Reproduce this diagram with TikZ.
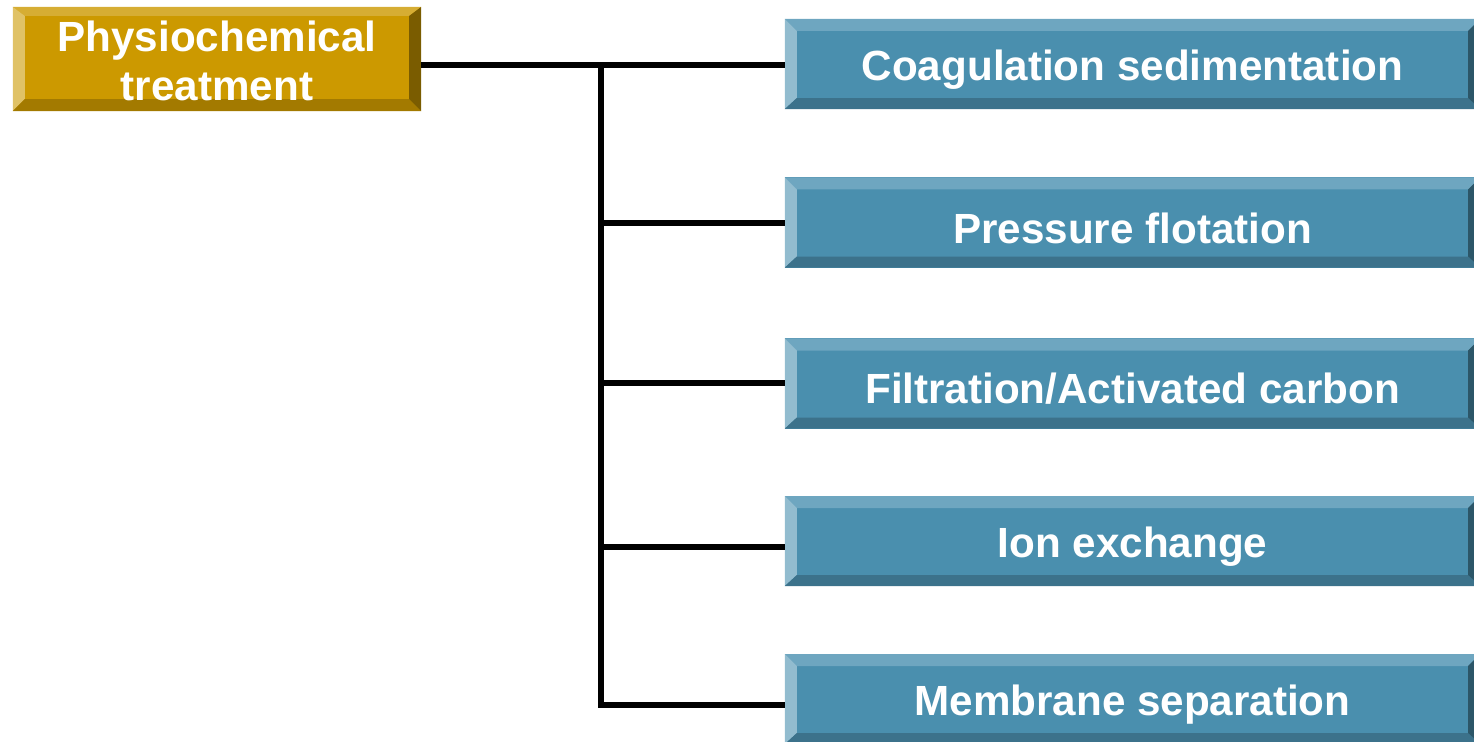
\documentclass[tikz,border=0pt]{standalone}
\usepackage{fontspec}
\setmainfont{Liberation Sans}
\usetikzlibrary{calc}

\definecolor{goldM}{HTML}{CC9900}
\definecolor{goldT}{HTML}{D6AD33}
\definecolor{goldL}{HTML}{E0C266}
\definecolor{goldB}{HTML}{A37A00}
\definecolor{goldR}{HTML}{7A5C00}
\definecolor{blueM}{HTML}{4A8FAE}
\definecolor{blueT}{HTML}{6EA6C0}
\definecolor{blueL}{HTML}{92BCCF}
\definecolor{blueB}{HTML}{3C728B}
\definecolor{blueR}{HTML}{2C5668}

% Bevelled frame around a node: name, top, side and bottom widths, colour prefix
\newcommand\bevelframe[5]{%
  \fill[#5T] (#1.north west) -- (#1.north east) -- ($(#1.north east)+(-#3,-#2)$) -- ($(#1.north west)+(#3,-#2)$) -- cycle;
  \fill[#5L] (#1.north west) -- (#1.south west) -- ($(#1.south west)+(#3,#4)$) -- ($(#1.north west)+(#3,-#2)$) -- cycle;
  \fill[#5B] (#1.south west) -- (#1.south east) -- ($(#1.south east)+(-#3,#4)$) -- ($(#1.south west)+(#3,#4)$) -- cycle;
  \fill[#5R] (#1.north east) -- (#1.south east) -- ($(#1.south east)+(-#3,#4)$) -- ($(#1.north east)+(-#3,-#2)$) -- cycle;
}

\tikzset{
  boxtext/.style={text=white, font=\bfseries\fontsize{12}{13.9}\selectfont,
    inner sep=0pt, outer sep=0pt, align=center},
  goldbox/.style={boxtext, fill=goldM, minimum width=4.08cm, minimum height=1.04cm},
  bluebox/.style={boxtext, fill=blueM, minimum width=6.95cm, minimum height=0.90cm},
  conn/.style={line width=1.6pt, black, line join=miter}
}

\begin{document}
\begin{tikzpicture}[x=0.01cm, y=-0.01cm]
\useasboundingbox (0,0) rectangle (1474,741);
\clip (0,0) rectangle (1474,741);

% main category
\node[goldbox] (g) at (217,59) {};
\bevelframe{g}{0.09cm}{0.12cm}{0.12cm}{gold}
\node[boxtext] at ($(g.center)+(0,-0.02cm)$) {Physiochemical\\treatment};

% treatment methods
\foreach \n/\y/\t in {b1/64/{Coagulation sedimentation},
                      b2/222.5/{Pressure flotation},
                      b3/383.5/{Filtration/Activated carbon},
                      b4/541/{Ion exchange},
                      b5/699/{Membrane separation}}{
  \node[bluebox] (\n) at (1132.5,\y) {};
  \bevelframe{\n}{0.12cm}{0.12cm}{0.11cm}{blue}
  \node[boxtext] at ($(\n.center)+(0,-0.055cm)$) {\t};
}

% junctions on the trunk line
\coordinate (j1) at (601,65);
\coordinate (j2) at (601,223);
\coordinate (j3) at (601,383);
\coordinate (j4) at (601,547);
\coordinate (j5) at (601,705);

% connectors
\draw[conn] (j1 -| g.east) -- (j1 -| b1.west);
\draw[conn] (j1) -- (j5) -- (j5 -| b5.west);
\draw[conn] (j2) -- (j2 -| b2.west);
\draw[conn] (j3) -- (j3 -| b3.west);
\draw[conn] (j4) -- (j4 -| b4.west);
\end{tikzpicture}
\end{document}
